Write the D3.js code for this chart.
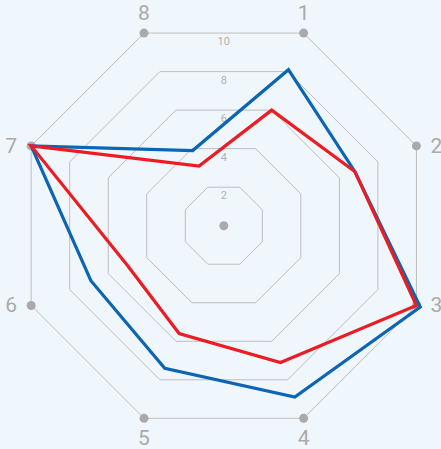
<!DOCTYPE html>
<html>
<head>
<meta charset="utf-8">
<script src="https://cdn.jsdelivr.net/npm/d3@7"></script>
<style>
  html, body { margin: 0; padding: 0; background: #f0f7fc; }
  svg { display: block; font-family: Roboto, "Liberation Sans", sans-serif; }
</style>
</head>
<body>
<svg id="chart" width="441" height="449"></svg>
<script>
document.addEventListener("DOMContentLoaded", function () {
  const axes = ["1", "2", "3", "4", "5", "6", "7", "8"];
  const ringLevels = [2, 4, 6, 8, 10];
  const blueValues = [8.1, 6.8, 10.2, 8.9, 7.4, 6.9, 10, 3.9];
  const redValues = [6, 6.8, 10, 7.1, 5.6, 5, 10, 3.1];

  const cx = 223.8, cy = 225.7;
  const svg = d3.select("#chart");

  const r = d3.scaleLinear().domain([0, 10]).range([0, 208.5]);

  // axis 1 sits 22.5deg right of the top
  const angle = d3.scaleLinear()
    .domain([0, axes.length])
    .range([Math.PI / 8, Math.PI / 8 + 2 * Math.PI]);

  function pt(i, v) {
    const a = angle(i);
    return [cx + r(v) * Math.sin(a), cy - r(v) * Math.cos(a)];
  }

  const line = d3.line().curve(d3.curveLinearClosed);

  // rings
  svg.append("g")
    .selectAll("path")
    .data(ringLevels)
    .join("path")
    .attr("d", (lv) => line(axes.map((_, i) => pt(i, lv))))
    .style("fill", "none")
    .style("stroke", "#bdbdbd")
    .style("stroke-width", 1);

  // ring labels
  svg.append("g")
    .selectAll("text")
    .data(ringLevels)
    .join("text")
    .attr("x", cx)
    .attr("y", (lv) => cy - r(lv) * Math.cos(Math.PI / 8) + 9)
    .attr("text-anchor", "middle")
    .attr("dominant-baseline", "middle")
    .style("font-size", "11px")
    .style("fill", "#b0b0b0")
    .text((lv) => lv);

  // dots at outer vertices + centre (under the lines)
  svg.append("g")
    .selectAll("circle")
    .data(axes)
    .join("circle")
    .attr("cx", (_, i) => pt(i, 10)[0])
    .attr("cy", (_, i) => pt(i, 10)[1])
    .attr("r", 4.5)
    .style("fill", "#aaaaaa");
  svg.append("circle")
    .attr("cx", cx)
    .attr("cy", cy)
    .attr("r", 4.5)
    .style("fill", "#aaaaaa");

  // series
  const series = [
    { values: blueValues, color: "#0b64b4" },
    { values: redValues, color: "#ec1c24" },
  ];
  svg.append("g")
    .selectAll("path")
    .data(series)
    .join("path")
    .attr("d", (s) => line(s.values.map((v, i) => pt(i, v))))
    .style("fill", "none")
    .style("stroke", (s) => s.color)
    .style("stroke-width", 3.2)
    .style("stroke-linejoin", "miter");

  // axis labels
  svg.append("g")
    .selectAll("text")
    .data(axes)
    .join("text")
    .attr("x", (_, i) => {
      const p = pt(i, 10), s = Math.sin(angle(i));
      return Math.abs(s) > 0.5 ? p[0] + Math.sign(s) * 20 : p[0];
    })
    .attr("y", (_, i) => {
      const p = pt(i, 10), c = Math.cos(angle(i)), s = Math.sin(angle(i));
      return Math.abs(s) > 0.5 ? p[1] : p[1] - Math.sign(c) * 20;
    })
    .attr("text-anchor", "middle")
    .attr("dominant-baseline", "central")
    .style("font-size", "21px")
    .style("fill", "#aaaaaa")
    .text((d) => d);
});
</script>
</body>
</html>
